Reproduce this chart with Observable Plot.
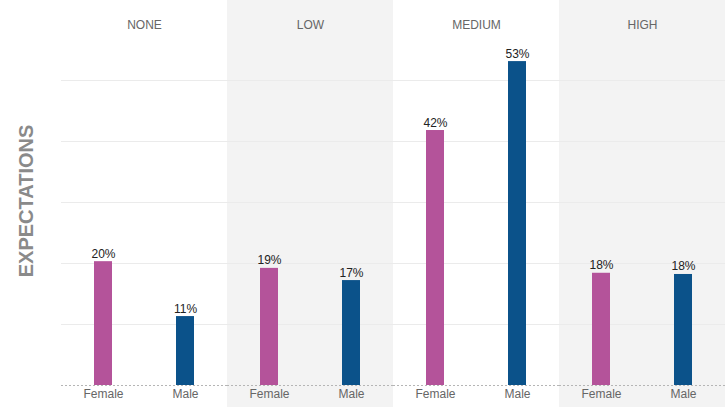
<!DOCTYPE html>
<html>
<head>
<meta charset="utf-8">
<script src="https://cdn.jsdelivr.net/npm/d3@7"></script>
<script src="https://cdn.jsdelivr.net/npm/@observablehq/plot@0.6"></script>
<style>
  html, body { margin: 0; padding: 0; background: #fff; }
  #chart { width: 725px; height: 407px; overflow: hidden; }
</style>
</head>
<body>
<div id="chart"></div>
<script>
const levels = ["NONE", "LOW", "MEDIUM", "HIGH"];
const genders = ["Female", "Male"];
const femaleValues = [20.3, 19.2, 41.8, 18.4];
const maleValues = [11.3, 17.2, 53.1, 18.2];
const shadedLevels = ["LOW", "HIGH"];
const gridTicks = [10, 20, 30, 40, 50];
const axisTitle = "EXPECTATIONS";

const data = [];
levels.forEach((lvl, i) => {
  data.push({level: lvl, gender: "Female", value: femaleValues[i]});
  data.push({level: lvl, gender: "Male", value: maleValues[i]});
});
const shaded = shadedLevels.map(l => ({level: l}));
const headers = levels.map(l => ({level: l}));

const mTop = 19, mBottom = 22;
const chart = Plot.plot({
  width: 725,
  height: 407,
  marginLeft: 61,
  marginRight: 0,
  marginTop: mTop,
  marginBottom: mBottom,
  style: {fontFamily: "'Liberation Sans', Arial, sans-serif", fontSize: "12px", background: "transparent"},
  fx: {domain: levels, padding: 0, axis: null},
  x: {domain: genders, paddingInner: 0.783, paddingOuter: 0.40, label: null},
  y: {domain: [0, 60], axis: null},
  color: {domain: genders, range: ["#b4539a", "#0b528a"]},
  marks: [
    Plot.rect(shaded, {fx: "level", fill: "#f3f3f3", insetTop: -mTop, insetBottom: -mBottom}),
    Plot.ruleY(gridTicks, {stroke: "#ebebeb", strokeWidth: 1}),
    Plot.barY(data, {fx: "level", x: "gender", y: "value", fill: "gender"}),
    Plot.ruleY([0], {stroke: "#b5b5b5", strokeDasharray: "2,2"}),
    Plot.text(data, {fx: "level", x: "gender", y: "value", text: d => Math.round(d.value) + "%",
      lineAnchor: "bottom", dy: -4, fill: "#222", fontSize: 12}),
    Plot.text(headers, {fx: "level", text: "level", frameAnchor: "top", dy: 1, fill: "#666", fontSize: 12}),
    Plot.axisX({tickSize: 0, tickPadding: 4, fill: "#666", fontSize: 12, label: null})
  ]
});

const svg = d3.select(chart);
svg.append("text")
  .attr("transform", "translate(33,201) rotate(-90)")
  .attr("text-anchor", "middle")
  .attr("font-family", "'Liberation Sans', Arial, sans-serif")
  .attr("font-size", 20)
  .attr("font-weight", "bold")
  .attr("fill", "#8a8a8a")
  .text(axisTitle);

document.getElementById("chart").appendChild(chart);
</script>
</body>
</html>
